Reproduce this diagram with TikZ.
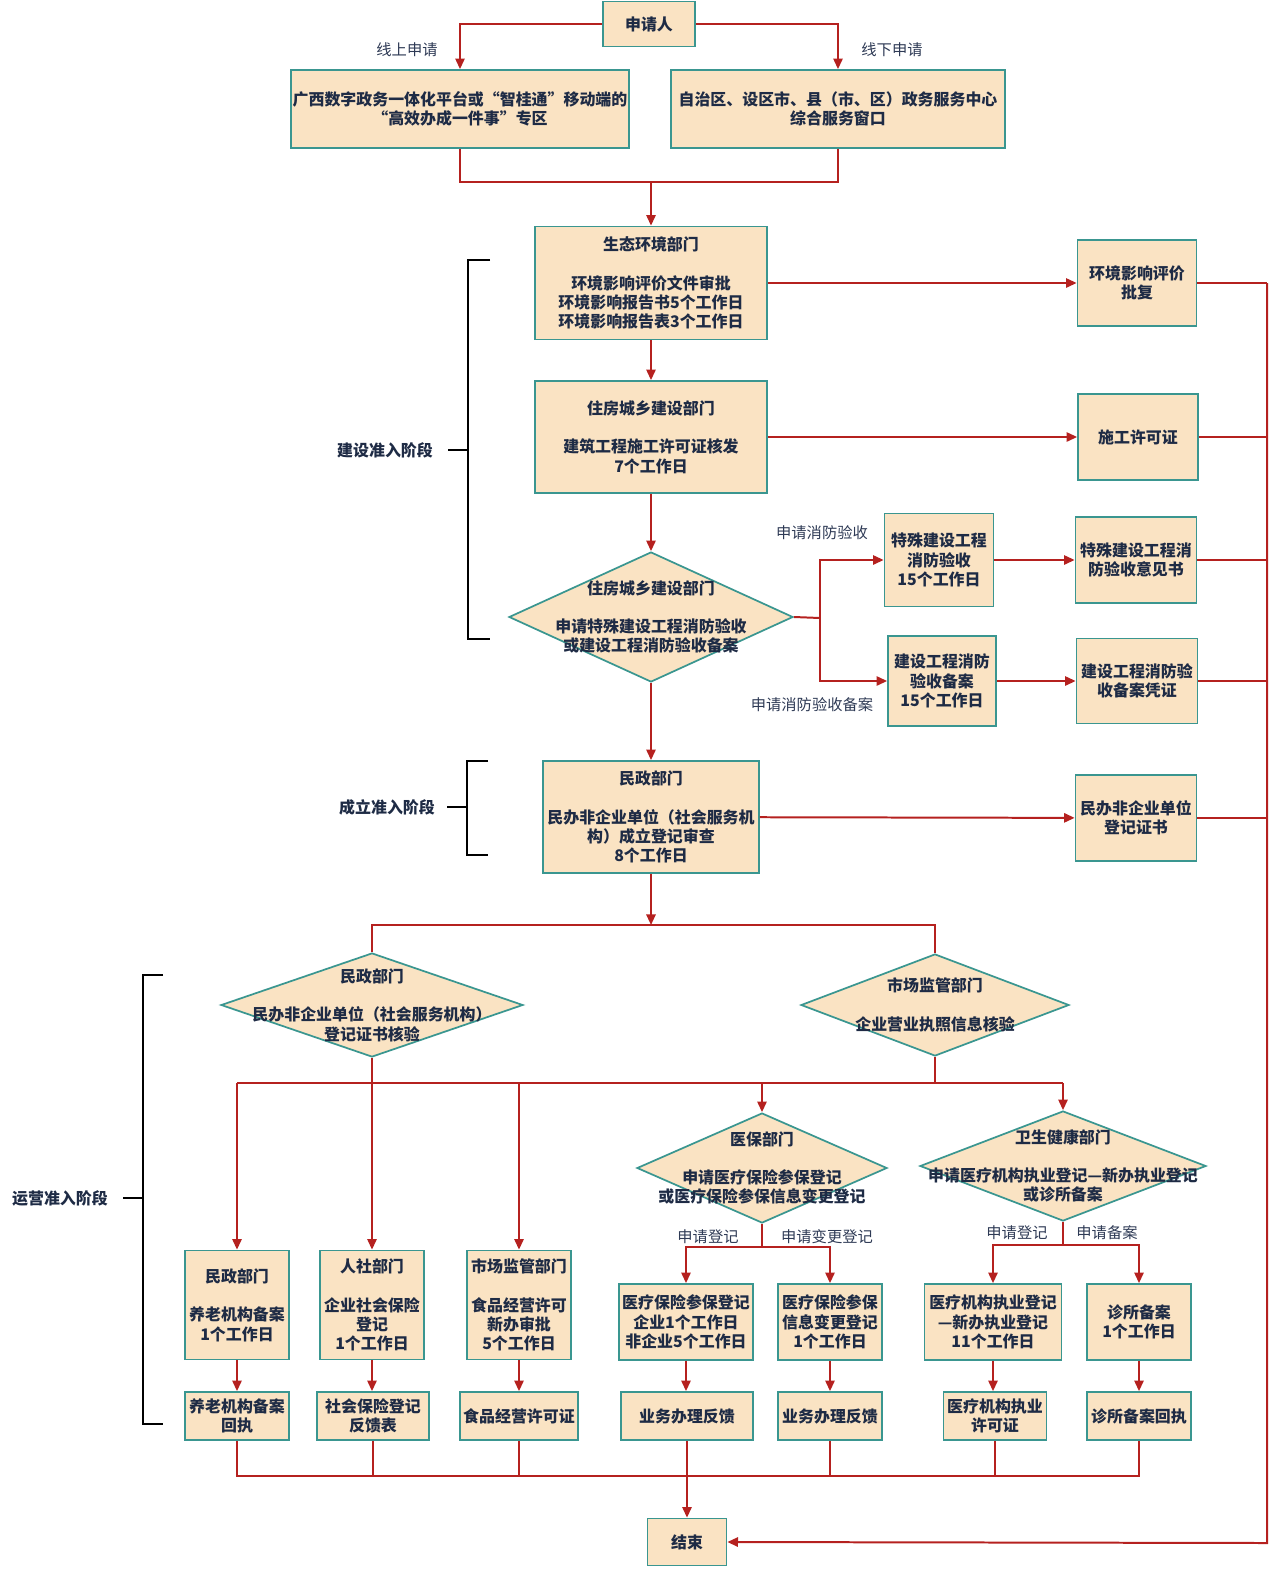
\documentclass[tikz,border=0pt]{standalone}
\usepackage{fontspec}
\setmainfont{Noto Sans CJK SC}
\usetikzlibrary{shapes.geometric,arrows.meta,calc}
\definecolor{boxfill}{HTML}{FAE3C3}
\definecolor{boxline}{HTML}{3A9690}
\definecolor{arr}{HTML}{B5211F}
\definecolor{txt}{HTML}{1E2B45}
\definecolor{lbl}{HTML}{2E3A55}
\begin{document}
\begin{tikzpicture}[x=0.75bp,y=-0.75bp,
  bx/.style={draw=boxline,line width=1.3pt,fill=boxfill,inner sep=1pt,align=center,font=\bfseries\fontsize{12}{14.5}\selectfont,text=txt},
  dm/.style={diamond,draw=boxline,line width=1.3pt,fill=boxfill,inner sep=0pt},
  dt/.style={align=center,font=\bfseries\fontsize{12}{14.5}\selectfont,text=txt,inner sep=0pt},
  ln/.style={draw=arr,line width=1.5pt},
  ar/.style={ln,-{Triangle[length=8pt,width=7pt]}},
  lb/.style={font=\fontsize{11.5}{14}\selectfont,text=lbl},
  stg/.style={font=\bfseries\fontsize{12}{14}\selectfont,text=txt},
  br/.style={draw=black,line width=1pt}]
\useasboundingbox (0,0) rectangle (1287,1581);
\newcommand{\B}[6]{\node[bx,minimum width=#4*0.75bp,minimum height=#5*0.75bp] (#1) at (#2,#3) {#6};}
\newcommand{\D}[6]{\node[dm,minimum width=#4*0.75bp,minimum height=#5*0.75bp] (#1) at (#2,#3) {}; \node[dt] at (#2,#3) {#6};}
\B{app}{649}{24}{92}{45}{申请人}
\B{on}{460}{109}{335}{78}{广西数字政务一体化平台或“智桂通”移动端的\\“高效办成一件事”专区}
\B{off}{838}{109}{334}{78}{自治区、设区市、县（市、区）政务服务中心\\综合服务窗口}
\B{eco}{651}{283}{232}{113}{生态环境部门\\[14.5pt]环境影响评价文件审批\\环境影响报告书5个工作日\\环境影响报告表3个工作日}
\B{r1}{1137}{283}{119}{86}{环境影响评价\\批复}
\B{hou}{651}{437}{232}{112}{住房城乡建设部门\\[14.5pt]建筑工程施工许可证核发\\7个工作日}
\B{r2}{1138}{437}{120}{86}{施工许可证}
\D{d1}{651}{617}{284}{130}{住房城乡建设部门\\[14.5pt]申请特殊建设工程消防验收\\或建设工程消防验收备案}
\B{sp}{939}{560}{109}{93}{特殊建设工程\\消防验收\\15个工作日}
\B{r3}{1136}{560}{121}{86}{特殊建设工程消\\防验收意见书}
\B{fi}{942}{681}{108}{90}{建设工程消防\\验收备案\\15个工作日}
\B{r4}{1137}{681}{121}{85}{建设工程消防验\\收备案凭证}
\B{mz}{651}{817}{216}{112}{民政部门\\[14.5pt]民办非企业单位（社会服务机\\构）成立登记审查\\8个工作日}
\B{r5}{1136}{818}{121}{86}{民办非企业单位\\登记证书}
\D{d2}{372}{1005}{302}{104}{民政部门\\[14.5pt]民办非企业单位（社会服务机构）\\登记证书核验}
\D{d3}{935}{1005}{268}{102}{市场监管部门\\[14.5pt]企业营业执照信息核验}
\D{d4}{762}{1168}{250}{110}{医保部门\\[14.5pt]申请医疗保险参保登记\\或医疗保险参保信息变更登记}
\D{d5}{1063}{1166}{286}{110}{卫生健康部门\\[14.5pt]申请医疗机构执业登记—新办执业登记\\或诊所备案}
\B{a1}{237}{1305}{104}{109}{民政部门\\[14.5pt]养老机构备案\\1个工作日}
\B{a2}{372}{1305}{104}{109}{人社部门\\[14.5pt]企业社会保险\\登记\\1个工作日}
\B{a3}{519}{1305}{104}{109}{市场监管部门\\[14.5pt]食品经营许可\\新办审批\\5个工作日}
\B{a4}{686}{1322}{134}{76}{医疗保险参保登记\\企业1个工作日\\非企业5个工作日}
\B{a5}{830}{1322}{104}{76}{医疗保险参保\\信息变更登记\\1个工作日}
\B{a6}{993}{1322}{137}{76}{医疗机构执业登记\\—新办执业登记\\11个工作日}
\B{a7}{1139}{1322}{104}{76}{诊所备案\\1个工作日}
\B{b1}{237}{1416}{104}{48}{养老机构备案\\回执}
\B{b2}{373}{1416}{112}{48}{社会保险登记\\反馈表}
\B{b3}{519}{1416}{118}{48}{食品经营许可证}
\B{b4}{687}{1416}{132}{48}{业务办理反馈}
\B{b5}{830}{1416}{104}{48}{业务办理反馈}
\B{b6}{995}{1416}{103}{48}{医疗机构执业\\许可证}
\B{b7}{1139}{1416}{104}{48}{诊所备案回执}
\B{end}{687}{1542}{79}{47}{结束}
% top
\draw[ar] (app.west) -| (on.north);
\draw[ar] (app.east) -| (off.north);
\node[lb] at (407,50) {线上申请};
\node[lb] at (892,50) {线下申请};
\coordinate (m1) at (651,182);
\draw[ln] (on.south) |- (m1) -| (off.south);
\draw[ar] (m1) -- (eco.north);
\draw[ar] (eco) -- (r1);
\draw[ar] (eco) -- (hou);
\draw[ar] (hou) -- (r2);
\draw[ar] (hou) -- (d1.north);
\coordinate (j1) at (820,618);
\draw[ln] (d1.east) -- (j1);
\draw[ar] (j1) |- (sp.west);
\draw[ar] (j1) |- (fi.west);
\node[lb] at (822,533) {申请消防验收};
\node[lb] at (812,705) {申请消防验收备案};
\draw[ar] (sp) -- (r3);
\draw[ar] (fi) -- (r4);
\draw[ar] (d1.south) -- (mz.north);
\draw[ar] (mz) -- (r5);
% right return line
\coordinate (rt) at (1267,283);
\coordinate (rb) at (1267,1543);
\draw[ln] (r1.east) -- (rt);
\draw[ln] (r2.east) -- (1267,437);
\draw[ln] (r3.east) -- (1267,560);
\draw[ln] (r4.east) -- (1267,681);
\draw[ln] (r5.east) -- (1267,818);
\draw[ar] (rt) -- (rb) -- (end.east);
% operation stage
\coordinate (s1) at (651,925);
\draw[ar] (mz.south) -- (s1);
\draw[ln] (d2.north) |- (s1) -| (d3.north);
\draw[ar] (d2.south) -- (a2.north);
\coordinate (h1) at (935,1083);
\draw[ln] (d3.south) -- (h1);
\draw[ln] (237,1083) -- (1063,1083);
\draw[ar] (237,1083) -- (a1.north);
\draw[ar] (519,1083) -- (a3.north);
\draw[ar] (762,1083) -- (d4.north);
\draw[ar] (1063,1083) -- (d5.north);
\coordinate (k4) at (762,1247);
\draw[ln] (d4.south) -- (k4);
\draw[ar] (k4) -| (a4.north);
\draw[ar] (k4) -| (a5.north);
\node[lb] at (708,1237) {申请登记};
\node[lb] at (827,1237) {申请变更登记};
\coordinate (k5) at (1063,1245);
\draw[ln] (d5.south) -- (k5);
\draw[ar] (k5) -| (a6.north);
\draw[ar] (k5) -| (a7.north);
\node[lb] at (1017,1233) {申请登记};
\node[lb] at (1107,1233) {申请备案};
\foreach \i in {1,...,7}{\draw[ar] (a\i.south) -- (a\i.south |- b\i.north);}
\coordinate (bl) at (237,1476);
\draw[ln] (b1.south) |- (1139,1476) -- (b7.south);
\foreach \i in {2,3,5,6}{\draw[ln] (b\i.south) -- (b\i.south |- bl);}
\draw[ar] (b4.south) -- (end.north);
% stage brackets
\draw[br] (490,260) -- (468,260) -- (468,639) -- (490,639);
\draw[br] (448,450) -- (468,450);
\node[stg] at (385,450) {建设准入阶段};
\draw[br] (488,761) -- (467,761) -- (467,855) -- (488,855);
\draw[br] (447,807) -- (467,807);
\node[stg] at (387,807) {成立准入阶段};
\draw[br] (163,975) -- (143,975) -- (143,1424) -- (163,1424);
\draw[br] (123,1198) -- (143,1198);
\node[stg] at (60,1198) {运营准入阶段};
\end{tikzpicture}
\end{document}
